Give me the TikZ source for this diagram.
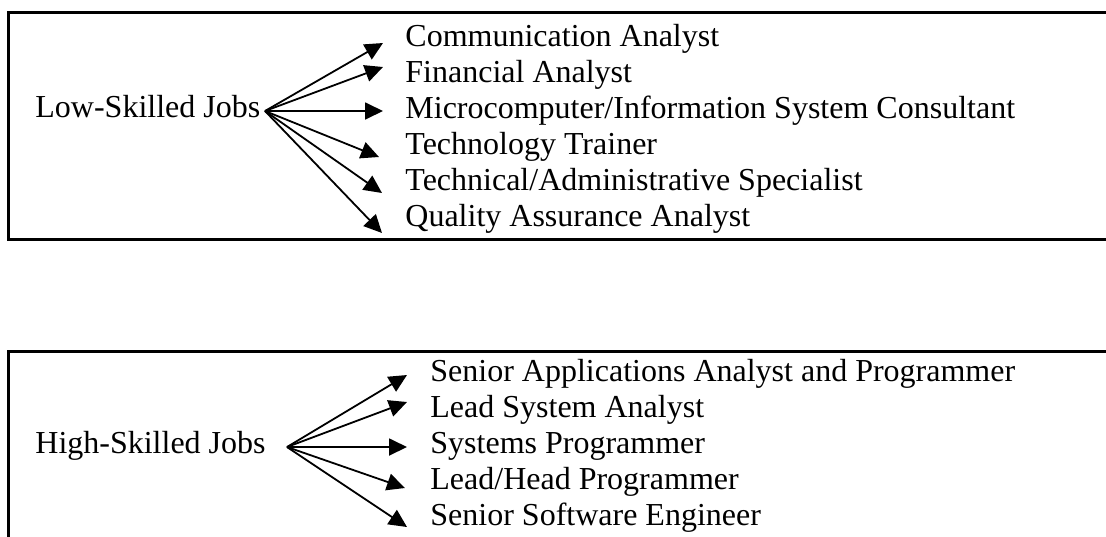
\documentclass[tikz,border=0pt]{standalone}
\usepackage{fontspec}
\setmainfont{Liberation Serif}
\usetikzlibrary{arrows.meta}

\begin{document}
\begin{tikzpicture}[x=0.5pt, y=-0.5pt,
	frame/.style={line width=1.5pt},
	job/.style={anchor=west, inner sep=0pt, text height=0.66em, text depth=0pt, font=\fontsize{16pt}{19pt}\selectfont},
	fan/.style={line width=0.9pt, -{Triangle[length=9pt, width=8.5pt]}}]
	\useasboundingbox (0, 0) rectangle (1106, 536);
	\clip (0, 0) rectangle (1106, 536);

	% the two frames run out over the right edge
	\draw[frame] (8, 12) rectangle (1130, 239);
	\draw[frame] (8, 351) rectangle (1130, 570);

	% low-skilled
	\node[job] (low) at (35, 111) {Low-Skilled Jobs};
	\coordinate (lowfan) at (265, 111);
	\node[job] (comm) at (405, 40) {Communication Analyst};
	\node[job] (fin) at (405, 76) {Financial Analyst};
	\node[job] (micro) at (405, 112) {Microcomputer/Information System Consultant};
	\node[job] (train) at (405, 148) {Technology Trainer};
	\node[job] (admin) at (405, 184) {Technical/Administrative Specialist};
	\node[job] (qa) at (405, 220) {Quality Assurance Analyst};

	\draw[fan] (lowfan) -- ([xshift=-11pt, yshift=-1.5pt]comm.west);
	\draw[fan] (lowfan) -- ([xshift=-11pt, yshift=4.5pt]fin.west);
	\draw[fan] (lowfan) -- ([xshift=-11pt, yshift=0.5pt]micro.west);
	\draw[fan] (lowfan) -- ([xshift=-13pt, yshift=-4.5pt]train.west);
	\draw[fan] (lowfan) -- ([xshift=-11.5pt, yshift=-4.5pt]admin.west);
	\draw[fan] (lowfan) -- ([xshift=-11.5pt, yshift=-6.5pt]qa.west);

	% high-skilled
	\node[job] (high) at (35, 447) {High-Skilled Jobs};
	\coordinate (highfan) at (287, 447);
	\node[job] (senapp) at (430, 375) {Senior Applications Analyst and Programmer};
	\node[job] (leadsys) at (430, 411) {Lead System Analyst};
	\node[job] (sysprog) at (430, 447) {Systems Programmer};
	\node[job] (leadprog) at (430, 483) {Lead/Head Programmer};
	\node[job] (senswe) at (430, 519) {Senior Software Engineer};

	\draw[fan] (highfan) -- ([xshift=-11.5pt]senapp.west);
	\draw[fan] (highfan) -- ([xshift=-11.5pt, yshift=4.5pt]leadsys.west);
	\draw[fan] (highfan) -- ([xshift=-11.5pt]sysprog.west);
	\draw[fan] (highfan) -- ([xshift=-12.5pt, yshift=-2.5pt]leadprog.west);
	\draw[fan] (highfan) -- ([xshift=-11.5pt, yshift=-4pt]senswe.west);
\end{tikzpicture}
\end{document}
